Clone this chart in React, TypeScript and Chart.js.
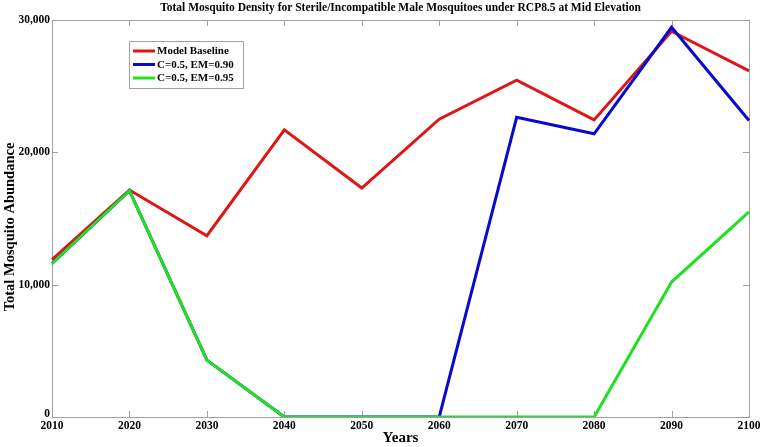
import React, { useEffect, useRef } from "react";
import { Chart, registerables } from "chart.js";

Chart.register(...registerables);

const TITLE = "Total Mosquito Density for Sterile/Incompatible Male Mosquitoes under RCP8.5 at Mid Elevation";
const X_TITLE = "Years";
const Y_TITLE = "Total Mosquito Abundance";

const years = ["2010", "2020", "2030", "2040", "2050", "2060", "2070", "2080", "2090", "2100"];
const baseline = [11900, 17150, 13700, 21700, 17300, 22500, 25450, 22450, 29150, 26150];
const em090 = [11600, 17100, 4300, 0, 0, 0, 22650, 21400, 29450, 22400];
const em095 = [11600, 17100, 4300, 0, 0, 0, 0, 0, 10200, 15500];
const yTicks = [0, 10000, 20000, 30000];

const seriesNames = ["Model Baseline", "C=0.5, EM=0.90", "C=0.5, EM=0.95"];
const seriesColors = ["#e01515", "#0a0acc", "#20e020"];

const FONT = "'Liberation Serif', 'Times New Roman', serif";

const decorPlugin = {
  id: "decor",
  beforeDatasetsDraw(chart: any) {
    const { ctx, chartArea: a, scales } = chart;
    ctx.save();
    ctx.strokeStyle = "#a0a0a0";
    ctx.lineWidth = 1;
    ctx.strokeRect(Math.round(a.left) + 0.5, Math.round(a.top) + 0.5, Math.round(a.right - a.left), Math.round(a.bottom - a.top));
    const tl = 6;
    ctx.beginPath();
    years.forEach((_, i) => {
      const x = Math.round(scales.x.getPixelForValue(i)) + 0.5;
      ctx.moveTo(x, a.bottom);
      ctx.lineTo(x, a.bottom - tl);
      ctx.moveTo(x, a.top);
      ctx.lineTo(x, a.top + tl);
    });
    yTicks.forEach((v) => {
      const y = Math.round(scales.y.getPixelForValue(v)) + 0.5;
      ctx.moveTo(a.left, y);
      ctx.lineTo(a.left + tl, y);
      ctx.moveTo(a.right, y);
      ctx.lineTo(a.right - tl, y);
    });
    ctx.stroke();

    // tick labels
    ctx.fillStyle = "#000";
    ctx.font = `bold 11.5px ${FONT}`;
    ctx.textBaseline = "middle";
    ctx.textAlign = "center";
    years.forEach((lab, i) => {
      ctx.fillText(lab, scales.x.getPixelForValue(i), a.bottom + 9);
    });
    ctx.textAlign = "right";
    yTicks.forEach((v) => {
      const y = scales.y.getPixelForValue(v);
      ctx.fillText(v.toLocaleString("en-US"), a.left - 2, v === 0 ? y - 3 : y);
    });
    ctx.restore();
  },
  afterDraw(chart: any) {
    const { ctx, chartArea: a } = chart;
    ctx.save();
    ctx.fillStyle = "#000";
    ctx.textAlign = "center";
    ctx.textBaseline = "middle";
    ctx.font = `bold 11.5px ${FONT}`;
    ctx.fillText(TITLE, (a.left + a.right) / 2, 8);
    ctx.font = `bold 15px ${FONT}`;
    ctx.fillText(X_TITLE, (a.left + a.right) / 2, 438);
    ctx.save();
    ctx.translate(10, 227);
    ctx.rotate(-Math.PI / 2);
    ctx.font = `bold 14.5px ${FONT}`;
    ctx.fillText(Y_TITLE, 0, 0);
    ctx.restore();

    // legend
    const bx = 129, by = 41, bw = 114, bh = 47;
    ctx.fillStyle = "#fff";
    ctx.fillRect(bx, by, bw, bh);
    ctx.strokeStyle = "#a0a0a0";
    ctx.lineWidth = 1;
    ctx.strokeRect(bx + 0.5, by + 0.5, bw, bh);
    ctx.font = `bold 11px ${FONT}`;
    ctx.textAlign = "left";
    seriesNames.forEach((name, i) => {
      const y = 51 + i * 13.5;
      ctx.strokeStyle = seriesColors[i];
      ctx.lineWidth = 3;
      ctx.beginPath();
      ctx.moveTo(133, y);
      ctx.lineTo(155, y);
      ctx.stroke();
      ctx.fillStyle = "#000";
      ctx.fillText(name, 157, y + 0.5);
    });
    ctx.restore();
  },
};

export default function App() {
  const ref = useRef<HTMLCanvasElement>(null);
  useEffect(() => {
    if (!ref.current) return;
    const data = [baseline, em090, em095];
    const chart = new Chart(ref.current, {
      type: "line",
      data: {
        labels: years,
        datasets: data.map((d, i) => ({
          label: seriesNames[i],
          data: d,
          borderColor: seriesColors[i],
          backgroundColor: seriesColors[i],
          borderWidth: 3,
          pointRadius: 0,
          tension: 0,
          fill: false,
          order: 3 - i,
        })),
      },
      options: {
        responsive: false,
        animation: false,
        layout: { padding: { left: 0, right: 14, top: 20, bottom: 0 } },
        plugins: { legend: { display: false }, title: { display: false }, tooltip: { enabled: false } },
        scales: {
          x: {
            type: "category",
            offset: false,
            grid: { display: false, drawTicks: false },
            border: { display: false },
            ticks: { display: false },
            afterFit: (s: any) => { s.height = 30; },
          },
          y: {
            min: 0,
            max: 30000,
            grid: { display: false, drawTicks: false },
            border: { display: false },
            ticks: { display: false },
            afterFit: (s: any) => { s.width = 52; },
          },
        },
      },
      plugins: [decorPlugin],
    });
    return () => chart.destroy();
  }, []);
  return (
    <div style={{ position: "fixed", left: 0, top: 0, width: 763, height: 447, background: "#fff" }}>
      <canvas ref={ref} width={763} height={447} style={{ display: "block" }} />
    </div>
  );
}
